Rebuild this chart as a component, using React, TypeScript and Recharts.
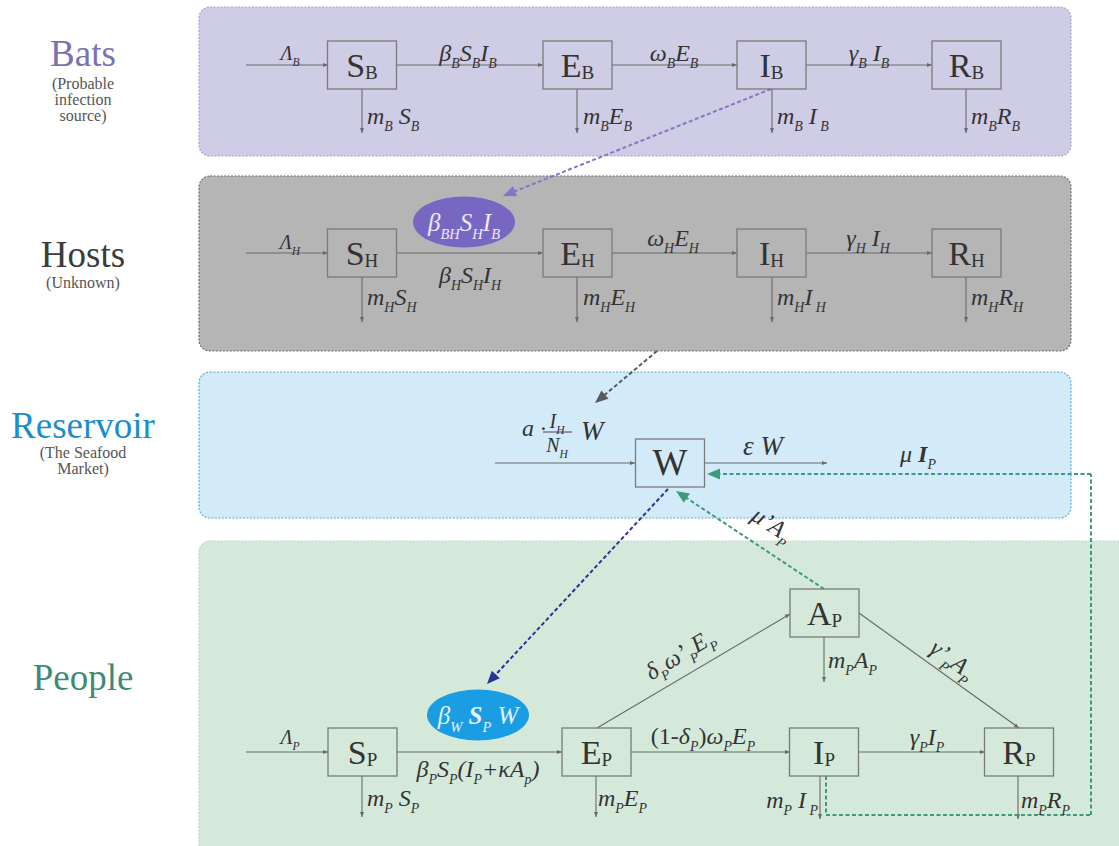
import React from 'react';
import { ComposedChart, XAxis, YAxis, Scatter, ReferenceArea, ReferenceLine } from 'recharts';

const CHART_W = 1119;
const CHART_H = 846;
const SERIF = 'Liberation Serif, Tinos, Noto Serif, DejaVu Serif, Times New Roman, Times, serif';

// ---------- data (diagram coordinates) ----------
const panels = [
  { id: 'bats', x1: 199, x2: 1071, y1: 7, y2: 156 },
  { id: 'hosts', x1: 199, x2: 1071, y1: 176, y2: 351 },
  { id: 'reservoir', x1: 199, x2: 1071, y1: 372, y2: 518 },
  { id: 'people', x1: 199, x2: 1119, y1: 541, y2: 846 },
];

const compartments = [
  { x: 362, y: 65, main: 'S', sub: 'B' },
  { x: 577.5, y: 65, main: 'E', sub: 'B' },
  { x: 771.5, y: 65, main: 'I', sub: 'B' },
  { x: 966.5, y: 65, main: 'R', sub: 'B' },
  { x: 362, y: 253, main: 'S', sub: 'H' },
  { x: 577.5, y: 253, main: 'E', sub: 'H' },
  { x: 771.5, y: 253, main: 'I', sub: 'H' },
  { x: 966.5, y: 253, main: 'R', sub: 'H' },
  { x: 670, y: 463, main: 'W', sub: '' },
  { x: 362.5, y: 752, main: 'S', sub: 'P' },
  { x: 596.5, y: 752, main: 'E', sub: 'P' },
  { x: 824, y: 752, main: 'I', sub: 'P' },
  { x: 1019, y: 752, main: 'R', sub: 'P' },
  { x: 824.5, y: 613, main: 'A', sub: 'P' },
];

// solid flows [x1, y1, x2, y2]
const solidFlows = [
  [246, 65, 328, 65], [396, 65, 543, 65], [612, 65, 737, 65], [806, 65, 932, 65],
  [362, 89, 362, 133], [577, 89, 577, 133], [772, 89, 772, 133], [966, 89, 966, 133],
  [246, 253, 328, 253], [396, 253, 543, 253], [612, 253, 737, 253], [806, 253, 932, 253],
  [362, 277, 362, 322], [577, 277, 577, 322], [772, 277, 772, 322], [966, 277, 966, 322],
  [495, 463, 635, 463], [705, 463, 827, 463],
  [246, 752, 328, 752], [397, 752, 562, 752], [631, 752, 790, 752], [858, 752, 985, 752],
  [597, 728, 790, 614], [859, 613, 1019, 728],
  [362, 776, 362, 817], [596, 776, 596, 817], [820, 776, 820, 819], [1018, 776, 1018, 819],
  [824, 637, 824, 682],
];

// dashed interaction links [x1, y1, x2, y2, tone, arrow]
const dashedLinks: [number, number, number, number, string, boolean][] = [
  [771, 89, 503, 196, 'purple', true],
  [657, 351, 595, 403, 'gray', true],
  [668, 489, 487, 684, 'navy', true],
  [824, 589, 676, 491, 'green', true],
  [826, 776, 826, 815, 'green', false],
  [826, 815, 1091, 815, 'green', false],
  [1091, 815, 1091, 474, 'green', false],
  [1091, 474, 707, 474, 'green', true],
];

const fractionBar = [543, 432, 572, 432];

const titles = [
  { x: 83, y: 66, text: 'Bats', tone: 'bats' },
  { x: 83, y: 267, text: 'Hosts', tone: 'hosts' },
  { x: 83, y: 438, text: 'Reservoir', tone: 'reservoir' },
  { x: 83, y: 690, text: 'People', tone: 'people' },
];

const subtitles = [
  { x: 83, y: 89, text: '(Probable' },
  { x: 83, y: 105, text: 'infection' },
  { x: 83, y: 121, text: 'source)' },
  { x: 83, y: 288, text: '(Unknown)' },
  { x: 83, y: 458, text: '(The Seafood' },
  { x: 83, y: 474, text: 'Market)' },
];

// formula labels: x, y (baseline), text, anchor
const flowLabels = [
  { x: 290, y: 60, text: 'Λ_{B}', anchor: 'middle', small: true },
  { x: 468, y: 61, text: 'β_{B}S_{B}I_{B}', anchor: 'middle' },
  { x: 674, y: 61, text: 'ω_{B}E_{B}', anchor: 'middle' },
  { x: 869, y: 61, text: 'γ_{B} I_{B}', anchor: 'middle' },
  { x: 367, y: 124, text: 'm_{B} S_{B}', anchor: 'start' },
  { x: 583, y: 124, text: 'm_{B}E_{B}', anchor: 'start' },
  { x: 777, y: 124, text: 'm_{B} I_{ B}', anchor: 'start' },
  { x: 971, y: 124, text: 'm_{B}R_{B}', anchor: 'start' },

  { x: 290, y: 249, text: 'Λ_{H}', anchor: 'middle', small: true },
  { x: 470, y: 283, text: 'β_{H}S_{H}I_{H}', anchor: 'middle' },
  { x: 673, y: 246, text: 'ω_{H}E_{H}', anchor: 'middle' },
  { x: 868, y: 246, text: 'γ_{H} I_{H}', anchor: 'middle' },
  { x: 367, y: 305, text: 'm_{H}S_{H}', anchor: 'start' },
  { x: 583, y: 305, text: 'm_{H}E_{H}', anchor: 'start' },
  { x: 777, y: 305, text: 'm_{H}I_{ H}', anchor: 'start' },
  { x: 971, y: 305, text: 'm_{H}R_{H}', anchor: 'start' },

  { x: 522, y: 436, text: 'a ·', anchor: 'start' },
  { x: 557, y: 428, text: 'I_{H}', anchor: 'middle', small: true },
  { x: 557, y: 452, text: 'N_{H}', anchor: 'middle', small: true },
  { x: 581, y: 440, text: 'W', anchor: 'start', big: true },
  { x: 763, y: 455, text: 'ε W', anchor: 'middle', big: true },
  { x: 918, y: 462, text: 'μ *{I}_{P}', anchor: 'middle' },

  { x: 290, y: 744, text: 'Λ_{P}', anchor: 'middle', small: true },
  { x: 478, y: 777, text: 'β_{P}S_{P}(I_{P}+κA_{p})', anchor: 'middle' },
  { x: 367, y: 806, text: 'm_{P} S_{P}', anchor: 'start' },
  { x: 598, y: 806, text: 'm_{P}E_{P}', anchor: 'start' },
  { x: 818, y: 808, text: 'm_{P} I_{ P}', anchor: 'end' },
  { x: 1021, y: 808, text: 'm_{P}R_{P}', anchor: 'start' },
  { x: 828, y: 668, text: 'm_{P}A_{P}', anchor: 'start' },
  { x: 703, y: 744, text: '!{(1-}δ_{P}!{)}ω_{P}E_{P}', anchor: 'middle' },
  { x: 927, y: 745, text: 'γ_{P}I_{P}', anchor: 'middle' },
];

const slantedLabels = [
  { x: 684, y: 661, text: 'δ_{P}ω’_{P}E_{P}', angle: -31 },
  { x: 948, y: 666, text: 'γ’_{P}A_{P}', angle: 36 },
  { x: 768, y: 531, text: 'μ’A_{P}', angle: 33 },
];

const ellipses = [
  { x: 464, y: 222, text: 'β_{BH}S_{H}I_{B}', tone: 'purple' },
  { x: 478, y: 715, text: 'β_{W} *{S}_{P} W', tone: 'blue' },
];

// ---------- styles ----------
const panelStyle: Record<string, { fill: string; stroke: string }> = {
  bats: { fill: '#cfcce6', stroke: '#a7a2d2' },
  hosts: { fill: '#b5b5b5', stroke: '#6d6d6d' },
  reservoir: { fill: '#d3ebf9', stroke: '#5eabd2' },
  people: { fill: '#d5e9da', stroke: '#bcd7c3' },
};
const titleColor: Record<string, string> = {
  bats: '#7a72b3',
  hosts: '#3b3b3b',
  reservoir: '#1c8dcc',
  people: '#3f8a77',
};
const dashColor: Record<string, string> = {
  purple: '#8475c9',
  gray: '#5a5a5a',
  navy: '#28339a',
  green: '#3f9a7a',
};
const ellipseStyle: Record<string, { fill: string; text: string }> = {
  purple: { fill: '#7767c3', text: '#eeeafc' },
  blue: { fill: '#1a9de2', text: '#e4f4ff' },
};
const INK = '#333333';
const LINE = '#6a6a6a';
const fontStyle = { fontFamily: SERIF };

// ---------- math text helper ----------
type Tok = { t: string; kind: 'n' | 's' | 'b' | 'u' };
function parse(s: string): Tok[] {
  const out: Tok[] = [];
  let buf = '';
  let i = 0;
  while (i < s.length) {
    const c = s[i];
    if ((c === '_' || c === '*' || c === '!') && s[i + 1] === '{') {
      if (buf) { out.push({ t: buf, kind: 'n' }); buf = ''; }
      const j = s.indexOf('}', i);
      out.push({ t: s.slice(i + 2, j), kind: c === '_' ? 's' : c === '*' ? 'b' : 'u' });
      i = j + 1;
    } else {
      buf += c;
      i++;
    }
  }
  if (buf) out.push({ t: buf, kind: 'n' });
  return out;
}

function mathSpans(s: string, fs: number) {
  const toks = parse(s);
  let off = 0;
  return toks.map((tk, k) => {
    let target = 0;
    let size = fs;
    let weight: string | undefined;
    let style: string | undefined;
    if (tk.kind === 's') { target = fs * 0.3; size = fs * 0.58; }
    if (tk.kind === 'b') { weight = 'bold'; }
    if (tk.kind === 'u') { style = 'normal'; }
    const dy = target - off;
    off = target;
    return (
      <tspan key={k} dy={dy} fontSize={size} fontWeight={weight} fontStyle={style} xmlSpace="preserve">
        {tk.t}
      </tspan>
    );
  });
}

// ---------- shapes ----------
const PanelShape = (id: string) => (p: any) => {
  const st = panelStyle[id];
  const extra = id === 'people' ? 30 : 0;
  return (
    <rect
      x={p.x}
      y={p.y}
      width={p.width + extra}
      height={p.height + extra}
      rx={11}
      ry={11}
      fill={st.fill}
      stroke={st.stroke}
      strokeWidth={1.2}
      strokeDasharray="2 1.5"
    />
  );
};

const arrowHead = (x1: number, y1: number, x2: number, y2: number, len: number, half: number, color: string) => {
  const dx = x2 - x1;
  const dy = y2 - y1;
  const d = Math.hypot(dx, dy) || 1;
  const ux = dx / d;
  const uy = dy / d;
  const bx = x2 - ux * len;
  const by = y2 - uy * len;
  const pts = `${x2},${y2} ${bx - uy * half},${by + ux * half} ${bx + uy * half},${by - ux * half}`;
  return <polygon points={pts} fill={color} />;
};

const SolidArrow = (p: any) => (
  <g>
    <line x1={p.x1} y1={p.y1} x2={p.x2} y2={p.y2} stroke={LINE} strokeWidth={1.1} />
    {arrowHead(p.x1, p.y1, p.x2, p.y2, 5, 2, LINE)}
  </g>
);

const DashedArrow = (tone: string, arrow: boolean) => (p: any) => {
  const c = dashColor[tone];
  let ex = p.x2;
  let ey = p.y2;
  if (arrow) {
    const d = Math.hypot(p.x2 - p.x1, p.y2 - p.y1) || 1;
    ex = p.x2 - ((p.x2 - p.x1) / d) * 8;
    ey = p.y2 - ((p.y2 - p.y1) / d) * 8;
  }
  return (
    <g>
      <line x1={p.x1} y1={p.y1} x2={ex} y2={ey} stroke={c} strokeWidth={2} strokeDasharray="4 2.5" />
      {arrow ? arrowHead(p.x1, p.y1, p.x2, p.y2, 13, 5.5, c) : null}
    </g>
  );
};

const PlainLine = (p: any) => (
  <line x1={p.x1} y1={p.y1} x2={p.x2} y2={p.y2} stroke="#444" strokeWidth={1} />
);

const BoxShape = (p: any) => {
  const { cx, cy, payload } = p;
  const w = 69;
  const h = 48;
  return (
    <g>
      <rect x={cx - w / 2} y={cy - h / 2} width={w} height={h} fill="none" stroke="#7b7b7b" strokeWidth={1.3} />
      <text x={cx} y={cy + 12} textAnchor="middle" style={fontStyle} fill={INK}>
        <tspan fontSize={payload.sub ? 34 : 37}>{payload.main}</tspan>
        {payload.sub ? (
          <tspan fontSize={19} dy={2}>{payload.sub}</tspan>
        ) : null}
      </text>
    </g>
  );
};

const TitleShape = (p: any) => (
  <text x={p.cx} y={p.cy} textAnchor="middle" style={fontStyle} fontSize={37} fill={titleColor[p.payload.tone]}>
    {p.payload.text}
  </text>
);

const SubtitleShape = (p: any) => (
  <text x={p.cx} y={p.cy} textAnchor="middle" style={fontStyle} fontSize={16} fill="#555">
    {p.payload.text}
  </text>
);

const FlowLabelShape = (p: any) => {
  const d = p.payload;
  const fs = d.small ? 20 : d.big ? 27 : 24;
  return (
    <text x={p.cx} y={p.cy} textAnchor={d.anchor} style={fontStyle} fontStyle="italic" fill={INK}>
      {mathSpans(d.text, fs)}
    </text>
  );
};

const SlantedShape = (p: any) => {
  const d = p.payload;
  return (
    <text
      x={p.cx}
      y={p.cy}
      textAnchor="middle"
      style={fontStyle}
      fontStyle="italic"
      fill={INK}
      transform={`rotate(${d.angle} ${p.cx} ${p.cy})`}
    >
      {mathSpans(d.text, 24)}
    </text>
  );
};

const EllipseShape = (p: any) => {
  const d = p.payload;
  const st = ellipseStyle[d.tone];
  return (
    <g>
      <ellipse cx={p.cx} cy={p.cy} rx={51} ry={25.5} fill={st.fill} />
      <text x={p.cx} y={p.cy + 9} textAnchor="middle" style={fontStyle} fontStyle="italic" fill={st.text}>
        {mathSpans(d.text, 25)}
      </text>
    </g>
  );
};

export default function App() {
  return (
    <div style={{ position: 'absolute', left: 0, top: 0, width: CHART_W, height: CHART_H, background: '#fff' }}>
      <ComposedChart width={CHART_W} height={CHART_H} margin={{ top: 0, right: 0, bottom: 0, left: 0 }}>
        <XAxis type="number" dataKey="x" domain={[0, CHART_W]} allowDataOverflow hide />
        <YAxis type="number" dataKey="y" domain={[0, CHART_H]} allowDataOverflow reversed hide />

        {panels.map((pn) => (
          <ReferenceArea
            key={pn.id}
            x1={pn.x1}
            x2={pn.x2}
            y1={pn.y1}
            y2={pn.y2}
            ifOverflow="visible"
            shape={PanelShape(pn.id)}
          />
        ))}

        {solidFlows.map((f, i) => (
          <ReferenceLine
            key={`s${i}`}
            segment={[{ x: f[0], y: f[1] }, { x: f[2], y: f[3] }]}
            ifOverflow="visible"
            shape={SolidArrow}
          />
        ))}

        {dashedLinks.map((f, i) => (
          <ReferenceLine
            key={`d${i}`}
            segment={[{ x: f[0], y: f[1] }, { x: f[2], y: f[3] }]}
            ifOverflow="visible"
            shape={DashedArrow(f[4], f[5])}
          />
        ))}

        <ReferenceLine
          segment={[{ x: fractionBar[0], y: fractionBar[1] }, { x: fractionBar[2], y: fractionBar[3] }]}
          ifOverflow="visible"
          shape={PlainLine}
        />

        <Scatter data={ellipses} shape={EllipseShape} isAnimationActive={false} />
        <Scatter data={compartments} shape={BoxShape} isAnimationActive={false} />
        <Scatter data={titles} shape={TitleShape} isAnimationActive={false} />
        <Scatter data={subtitles} shape={SubtitleShape} isAnimationActive={false} />
        <Scatter data={flowLabels} shape={FlowLabelShape} isAnimationActive={false} />
        <Scatter data={slantedLabels} shape={SlantedShape} isAnimationActive={false} />
      </ComposedChart>
    </div>
  );
}
